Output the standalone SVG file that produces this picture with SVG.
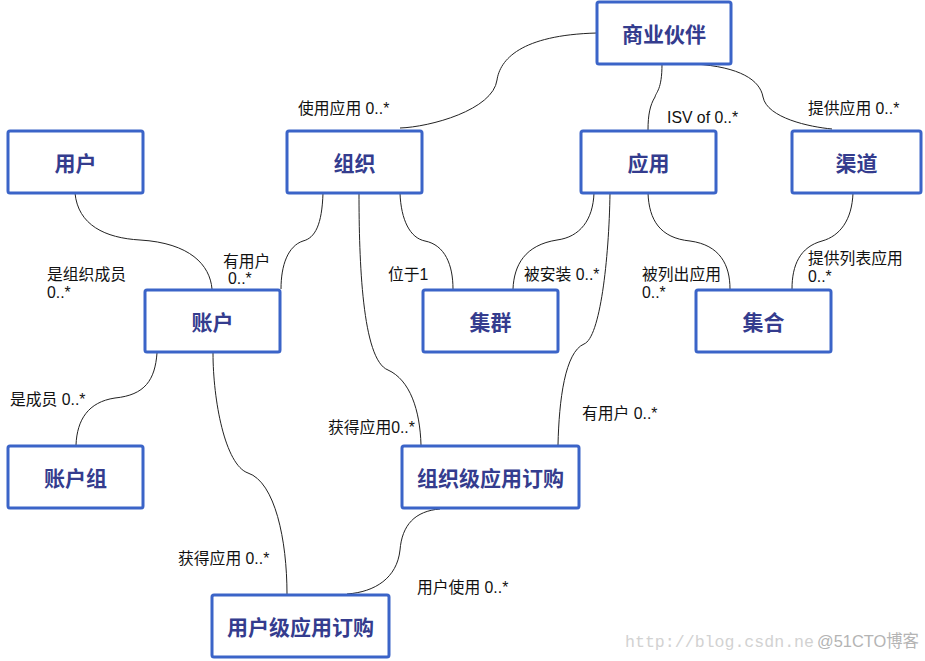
<svg xmlns="http://www.w3.org/2000/svg" width="925" height="661" viewBox="0 0 925 661">
<style>
.box{fill:#fff;stroke:#3b64c8;stroke-width:3}
.nt{font-family:"Noto Sans CJK SC","Liberation Sans",sans-serif;font-weight:bold;font-size:21px;fill:#343c8e;text-anchor:middle;dominant-baseline:central}
.lbl{font-family:"Liberation Sans","Noto Sans CJK SC",sans-serif;font-size:15.8px;fill:#111}
.con path{fill:none;stroke:#222;stroke-width:1}
.wm{font-family:"Liberation Mono","Noto Sans CJK SC",monospace;font-size:16.5px;fill:#d2d2d2}
.wm2{font-family:"Liberation Sans","Noto Sans CJK SC",sans-serif;font-size:17px;fill:#b4b4b4}
</style>
<rect width="925" height="661" fill="#fff"/>
<g class="con" id="connectors">
<path d="M597,33 C520,35 500,60 497,80 C493,110 430,127 400,128"/>
<path d="M662,64 C662,90 656,92 655,97 C650,105 648,115 648,130"/>
<path d="M695,64 C740,67 760,80 763,97 C767,118 810,127 832,129"/>
<path d="M75,193 C78,225 105,238 140,240 C190,243 210,265 212,289"/>
<path d="M323,193 C322,225 315,238 303,241 C288,246 281,265 281,289"/>
<path d="M359,193 C359,260 362,360 388,370 C410,380 420,410 421,445"/>
<path d="M400,193 C401,220 410,238 425,241 C445,245 453,265 453,289"/>
<path d="M594,193 C593,220 580,237 557,240 C525,245 514,265 513,289"/>
<path d="M610,193 C609,260 600,338 584,344 C565,352 559,400 558,445"/>
<path d="M648,193 C649,220 660,238 690,241 C720,245 730,265 730,289"/>
<path d="M853,193 C852,220 840,236 822,241 C800,247 792,265 792,289"/>
<path d="M157,353 C155,380 145,395 115,398 C88,402 77,420 76,445"/>
<path d="M213,353 C213,400 225,465 248,473 C275,482 287,540 287,594"/>
<path d="M440,509 C415,511 402,525 400,550 C397,578 375,592 347,594"/>
</g>
<g id="n-partner"><rect class="box" x="597" y="2" width="134" height="62" rx="2"/><text class="nt" x="664" y="33">商业伙伴</text></g>
<g id="n-user"><rect class="box" x="8" y="131" width="135" height="62" rx="2"/><text class="nt" x="75.5" y="162">用户</text></g>
<g id="n-org"><rect class="box" x="287" y="131" width="135" height="62" rx="2"/><text class="nt" x="354.5" y="162">组织</text></g>
<g id="n-app"><rect class="box" x="581" y="131" width="135" height="62" rx="2"/><text class="nt" x="648.5" y="162">应用</text></g>
<g id="n-channel"><rect class="box" x="792" y="131" width="129" height="62" rx="2"/><text class="nt" x="856.5" y="162">渠道</text></g>
<g id="n-account"><rect class="box" x="145" y="290" width="135" height="62" rx="2"/><text class="nt" x="212.5" y="321">账户</text></g>
<g id="n-cluster"><rect class="box" x="423" y="290" width="135" height="62" rx="2"/><text class="nt" x="490.5" y="321">集群</text></g>
<g id="n-collection"><rect class="box" x="696" y="290" width="135" height="62" rx="2"/><text class="nt" x="763.5" y="321">集合</text></g>
<g id="n-accgroup"><rect class="box" x="8" y="446" width="135" height="62" rx="2"/><text class="nt" x="75.5" y="477">账户组</text></g>
<g id="n-orgsub"><rect class="box" x="402" y="446" width="177" height="62" rx="2"/><text class="nt" x="490.5" y="477">组织级应用订购</text></g>
<g id="n-usersub"><rect class="box" x="212" y="595" width="177" height="62" rx="2"/><text class="nt" x="300.5" y="626">用户级应用订购</text></g>
<g id="labels">
<text class="lbl" x="298" y="114">使用应用 0..*</text>
<text class="lbl" x="667" y="123">ISV of 0..*</text>
<text class="lbl" x="808" y="114">提供应用 0..*</text>
<text class="lbl" x="47" y="280">是组织成员</text>
<text class="lbl" x="47" y="298">0..*</text>
<text class="lbl" x="223" y="267">有用户</text>
<text class="lbl" x="228" y="284">0..*</text>
<text class="lbl" x="388" y="280">位于1</text>
<text class="lbl" x="524" y="280">被安装 0..*</text>
<text class="lbl" x="642" y="280">被列出应用</text>
<text class="lbl" x="642" y="298">0..*</text>
<text class="lbl" x="808" y="264">提供列表应用</text>
<text class="lbl" x="808" y="282">0..*</text>
<text class="lbl" x="10" y="405">是成员 0..*</text>
<text class="lbl" x="328" y="433">获得应用0..*</text>
<text class="lbl" x="582" y="419">有用户 0..*</text>
<text class="lbl" x="178" y="564">获得应用 0..*</text>
<text class="lbl" x="417" y="593">用户使用 0..*</text>
</g>
<text class="wm" x="625" y="647" textLength="189" lengthAdjust="spacingAndGlyphs">http://blog.csdn.ne</text>
<text class="wm2" x="817" y="647" textLength="102" lengthAdjust="spacingAndGlyphs">@51CTO博客</text>
</svg>
